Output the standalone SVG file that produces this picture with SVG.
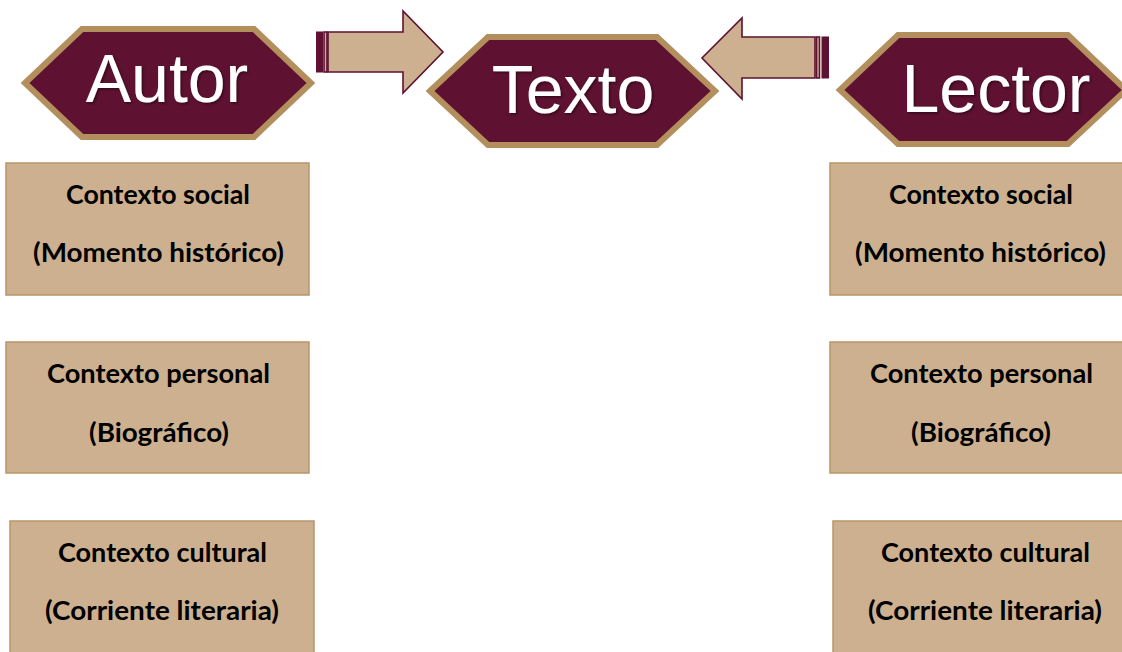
<svg xmlns="http://www.w3.org/2000/svg" width="1122" height="652" viewBox="0 0 1122 652">
  <defs>
    <filter id="shadow" x="-10%" y="-10%" width="130%" height="140%">
      <feDropShadow dx="1.5" dy="1.5" stdDeviation="1" flood-color="#000000" flood-opacity="0.45"/>
    </filter>
  </defs>
  <style>
    .hex { fill: #5E1131; stroke: #B38F5D; stroke-width: 6; stroke-linejoin: miter; }
    .hexlabel { font-family: "Liberation Sans", Arial, sans-serif; font-size: 68px; fill: #FFFFFF; text-anchor: middle; }
    .arrow { fill: #CCB08F; stroke: #5E1131; stroke-width: 1.6; stroke-linejoin: miter; }
    .stripe { fill: #5E1131; stroke: #5E1131; stroke-width: 1; }
    .stripe2 { fill: #CCB08F; stroke: #5E1131; stroke-width: 1.6; }
    .box { fill: #CCB08F; stroke: #B8956A; stroke-width: 1.5; }
    .boxlabel { font-family: Lato, "Liberation Sans", sans-serif; font-weight: bold; font-size: 27px; fill: #000000; text-anchor: middle; }
  </style>

  <g id="autor">
    <polygon class="hex" points="25,83 82,29 254,29 311,83 254,137 82,137"/>
    <text class="hexlabel" x="167" y="102" filter="url(#shadow)">Autor</text>
  </g>

  <g id="texto">
    <polygon class="hex" points="430,91 488,37 657,37 715,91 657,145 488,145"/>
    <text class="hexlabel" x="573" y="113" filter="url(#shadow)">Texto</text>
  </g>

  <g id="lector">
    <polygon class="hex" points="840,90 898,35 1068,35 1126,90 1068,144 898,144"/>
    <text class="hexlabel" x="996" y="112" filter="url(#shadow)">Lector</text>
  </g>

  <g id="connectors">
    <g id="arrow-autor-texto">
      <rect class="stripe" x="316.5" y="32" width="6" height="40"/>
      <rect class="stripe2" x="324" y="32" width="3" height="40"/>
      <polygon class="arrow" points="328,32 403,32 403,11 443,52 403,93 403,72 328,72"/>
    </g>
    <g id="arrow-lector-texto">
      <polygon class="arrow" points="815,37 742,37 742,18 702,58 742,99 742,78 815,78"/>
      <rect class="stripe2" x="816.5" y="37" width="3" height="41"/>
      <rect class="stripe" x="822" y="37" width="6.5" height="41"/>
    </g>
  </g>

  <g id="autor-social">
    <rect class="box" x="6" y="163" width="303" height="132"/>
    <text class="boxlabel" x="158" y="204" textLength="184" lengthAdjust="spacingAndGlyphs">Contexto social</text>
    <text class="boxlabel" x="158.5" y="262" textLength="251" lengthAdjust="spacingAndGlyphs">(Momento histórico)</text>
  </g>
  <g id="autor-personal">
    <rect class="box" x="6" y="342" width="303" height="131"/>
    <text class="boxlabel" x="158.5" y="383" textLength="223" lengthAdjust="spacingAndGlyphs">Contexto personal</text>
    <text class="boxlabel" x="159" y="442" textLength="140" lengthAdjust="spacingAndGlyphs">(Biográfico)</text>
  </g>
  <g id="autor-cultural">
    <rect class="box" x="10" y="521" width="304" height="140"/>
    <text class="boxlabel" x="162.5" y="562" textLength="209" lengthAdjust="spacingAndGlyphs">Contexto cultural</text>
    <text class="boxlabel" x="162" y="620" textLength="234" lengthAdjust="spacingAndGlyphs">(Corriente literaria)</text>
  </g>

  <g id="lector-social">
    <rect class="box" x="830" y="163" width="303" height="132"/>
    <text class="boxlabel" x="981" y="204" textLength="184" lengthAdjust="spacingAndGlyphs">Contexto social</text>
    <text class="boxlabel" x="980.5" y="262" textLength="251" lengthAdjust="spacingAndGlyphs">(Momento histórico)</text>
  </g>
  <g id="lector-personal">
    <rect class="box" x="830" y="342" width="303" height="131"/>
    <text class="boxlabel" x="981.5" y="383" textLength="223" lengthAdjust="spacingAndGlyphs">Contexto personal</text>
    <text class="boxlabel" x="981" y="442" textLength="140" lengthAdjust="spacingAndGlyphs">(Biográfico)</text>
  </g>
  <g id="lector-cultural">
    <rect class="box" x="833" y="521" width="304" height="140"/>
    <text class="boxlabel" x="985.5" y="562" textLength="209" lengthAdjust="spacingAndGlyphs">Contexto cultural</text>
    <text class="boxlabel" x="985" y="620" textLength="234" lengthAdjust="spacingAndGlyphs">(Corriente literaria)</text>
  </g>
</svg>
